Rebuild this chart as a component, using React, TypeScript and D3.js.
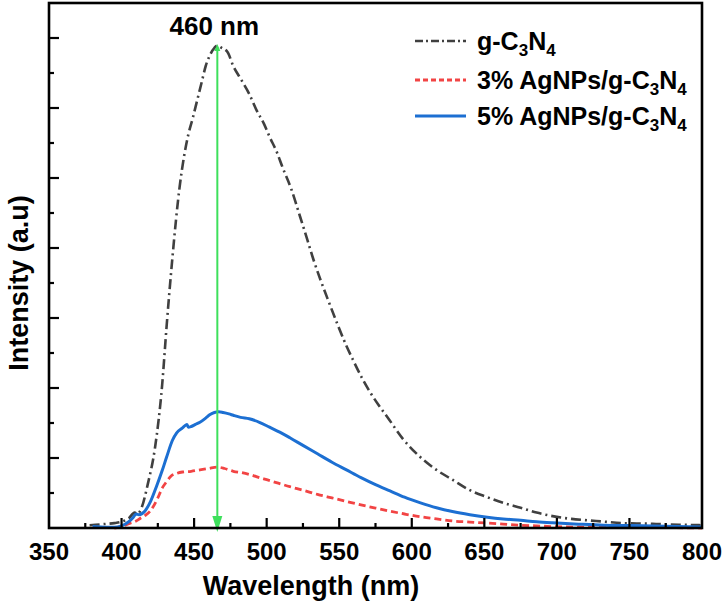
import React from "react";
import * as d3 from "d3";

// ---- data ----
const gcnWl = [378, 385, 390, 395, 400, 405, 409, 411, 414, 418, 423, 428, 431, 435, 440, 443, 446, 449, 452, 455, 458, 461, 464, 466, 469, 473, 477, 482, 488, 493, 498, 502, 507, 511, 517, 523, 528, 532, 537, 543, 549, 555, 560, 566, 571, 577, 583, 594, 606, 617, 628, 640, 652, 663, 675, 686, 697, 710, 721, 733, 744, 755, 766, 777, 788, 799];
const gcnVal = [0.04, 0.05, 0.06, 0.07, 0.09, 0.14, 0.22, 0.2, 0.3, 0.62, 1.14, 2.05, 2.87, 3.85, 4.87, 5.3, 5.62, 5.85, 6.1, 6.35, 6.6, 6.76, 6.86, 6.89, 6.86, 6.8, 6.6, 6.42, 6.2, 5.97, 5.78, 5.59, 5.37, 5.15, 4.84, 4.45, 4.12, 3.85, 3.55, 3.22, 2.9, 2.6, 2.38, 2.13, 1.95, 1.76, 1.59, 1.27, 1.01, 0.83, 0.69, 0.54, 0.44, 0.36, 0.29, 0.22, 0.17, 0.13, 0.11, 0.09, 0.07, 0.065, 0.06, 0.05, 0.045, 0.04];

const ag5Wl = [380, 390, 395, 400, 405, 408, 410, 412, 416, 420, 424, 428, 431, 435, 438, 442, 445, 446, 448, 451, 454, 458, 461, 464, 467, 470, 474, 477, 482, 488, 495, 502, 509, 516, 525, 535, 545, 555, 565, 575, 585, 595, 606, 617, 628, 640, 652, 663, 675, 686, 697, 715, 732, 750, 766, 783, 800];
const ag5Val = [0.02, 0.01, 0.01, 0.03, 0.09, 0.15, 0.2, 0.19, 0.24, 0.38, 0.59, 0.82, 1.01, 1.25, 1.36, 1.43, 1.48, 1.44, 1.45, 1.48, 1.51, 1.57, 1.62, 1.65, 1.66, 1.65, 1.63, 1.61, 1.58, 1.56, 1.51, 1.44, 1.37, 1.29, 1.18, 1.06, 0.94, 0.83, 0.72, 0.62, 0.53, 0.44, 0.36, 0.29, 0.235, 0.19, 0.155, 0.13, 0.11, 0.09, 0.075, 0.055, 0.04, 0.035, 0.03, 0.02, 0.015];

const ag3Wl = [395, 400, 406, 410, 413, 417, 420, 425, 428, 431, 434, 438, 442, 448, 454, 460, 466, 471, 477, 483, 489, 495, 500, 508, 516, 525, 535, 545, 555, 565, 575, 585, 595, 606, 617, 628, 640, 652, 663, 675, 686, 697, 720, 745, 770, 800];
const ag3Val = [0.0, 0.02, 0.07, 0.1, 0.14, 0.19, 0.25, 0.43, 0.57, 0.66, 0.74, 0.78, 0.8, 0.81, 0.83, 0.85, 0.87, 0.85, 0.81, 0.79, 0.76, 0.72, 0.69, 0.64, 0.59, 0.54, 0.48, 0.43, 0.38, 0.33, 0.285, 0.24, 0.2, 0.16, 0.13, 0.1, 0.085, 0.07, 0.055, 0.04, 0.03, 0.02, 0.01, 0.005, 0.005, 0.0];

const xTickLabels = [350, 400, 450, 500, 550, 600, 650, 700, 750, 800];
const xMinorTicks = [375, 425, 475, 525, 575, 625, 675, 725, 775];
const yMajorTicks = [1, 2, 3, 4, 5, 6, 7];
const yMinorTicks = [0.5, 1.5, 2.5, 3.5, 4.5, 5.5, 6.5];
const peakWl = 466;
const peakLabel = "460 nm";

const seriesList = [
  { key: "gcn", wl: gcnWl, val: gcnVal, color: "#404040", dash: "10,4,2,4", width: 2.6, label: ["", "g-C", "3", "N", "4"] },
  { key: "ag3", wl: ag3Wl, val: ag3Val, color: "#f24444", dash: "7,4", width: 2.8, label: ["3% ", "AgNPs/g-C", "3", "N", "4"] },
  { key: "ag5", wl: ag5Wl, val: ag5Val, color: "#1c6fd2", dash: "", width: 3, label: ["5% ", "AgNPs/g-C", "3", "N", "4"] },
];

const W = 724, H = 604;
const L = 49, R = 702, T = 3, B = 528;
const FONT = "'Liberation Sans', Arial, Helvetica, sans-serif";

export default function App() {
  const x = d3.scaleLinear().domain([350, 800]).range([L, R]);
  const y = d3.scaleLinear().domain([0, 7.5]).range([B, T]);
  const line = d3.line<[number, number]>()
    .x((d) => x(d[0]))
    .y((d) => y(d[1]))
    .curve(d3.curveMonotoneX);

  const legendY = [41, 80, 116];

  return (
    <svg width={W} height={H} style={{ position: "absolute", left: 0, top: 0, background: "#fff" }} fontFamily={FONT}>
      <defs>
        <clipPath id="plotClip">
          <rect x={L} y={T} width={R - L} height={B - T + 2} />
        </clipPath>
      </defs>
      <rect x={0} y={0} width={W} height={H} fill="#fff" />

      {/* curves */}
      <g clipPath="url(#plotClip)">
        {seriesList.map((s) => (
          <path
            key={s.key}
            d={line(s.wl.map((w, i) => [w, s.val[i]] as [number, number])) || ""}
            fill="none"
            stroke={s.color}
            strokeWidth={s.width}
            strokeDasharray={s.dash || undefined}
            strokeLinejoin="round"
          />
        ))}
      </g>

      {/* green arrow */}
      <line x1={x(peakWl)} x2={x(peakWl)} y1={y(6.9) + 2} y2={B - 6} stroke="#3ee05c" strokeWidth={2} />
      <path d={`M${x(peakWl) - 5},${B - 12} L${x(peakWl) + 5},${B - 12} L${x(peakWl)},${B + 4} Z`} fill="#3ee05c" />
      <path d={`M${x(peakWl) - 3},${y(6.9) + 6} L${x(peakWl) + 3},${y(6.9) + 6} L${x(peakWl)},${y(6.9) - 1} Z`} fill="#3ee05c" />
      <text x={x(peakWl) - 3} y={35} fontSize={26} fontWeight="bold" textAnchor="middle" fill="#000">{peakLabel}</text>

      {/* frame */}
      <rect x={L} y={T} width={R - L} height={B - T} fill="none" stroke="#000" strokeWidth={2.6} />

      {/* x ticks */}
      {xTickLabels.filter((v) => v > 350 && v < 800).map((v) => (
        <line key={"xM" + v} x1={x(v)} x2={x(v)} y1={B} y2={B - 10} stroke="#000" strokeWidth={2.2} />
      ))}
      {xMinorTicks.map((v) => (
        <line key={"xm" + v} x1={x(v)} x2={x(v)} y1={B} y2={B - 5} stroke="#000" strokeWidth={2.2} />
      ))}
      {xTickLabels.map((v) => (
        <text key={"xl" + v} x={x(v)} y={560} fontSize={24} fontWeight="bold" textAnchor="middle" fill="#000">{v}</text>
      ))}

      {/* y ticks */}
      {yMajorTicks.map((v) => (
        <line key={"yM" + v} x1={L} x2={L + 10} y1={y(v)} y2={y(v)} stroke="#000" strokeWidth={2.2} />
      ))}
      {yMinorTicks.map((v) => (
        <line key={"ym" + v} x1={L} x2={L + 5} y1={y(v)} y2={y(v)} stroke="#000" strokeWidth={2.2} />
      ))}

      {/* axis titles */}
      <text x={311} y={595} fontSize={27} fontWeight="bold" textAnchor="middle" fill="#000">Wavelength (nm)</text>
      <text transform={`translate(28,283) rotate(-90)`} fontSize={27} fontWeight="bold" textAnchor="middle" fill="#000">Intensity (a.u)</text>

      {/* legend */}
      {seriesList.map((s, i) => (
        <g key={"lg" + s.key}>
          <line x1={415} x2={466} y1={legendY[i]} y2={legendY[i]} stroke={s.color} strokeWidth={s.width} strokeDasharray={s.dash ? (s.key === "gcn" ? "8,3,2,3" : "5,3") : undefined} />
          <text x={477} y={legendY[i] + 9} fontSize={25} fontWeight="bold" fill="#000">
            {s.label[0]}{s.label[1]}
            <tspan fontSize={17} dy={6}>{s.label[2]}</tspan>
            <tspan fontSize={25} dy={-6}>{s.label[3]}</tspan>
            <tspan fontSize={17} dy={6}>{s.label[4]}</tspan>
          </text>
        </g>
      ))}
    </svg>
  );
}
